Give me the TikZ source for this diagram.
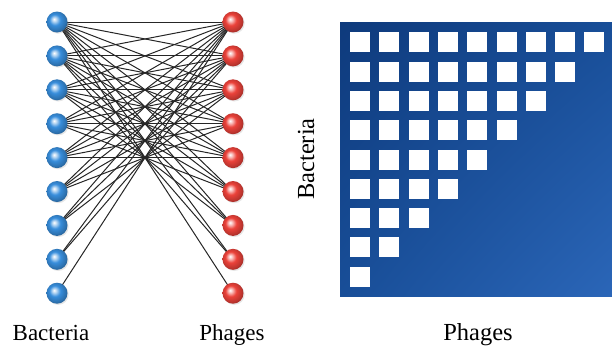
\documentclass[tikz,border=0pt]{standalone}
\usepackage{fontspec}
\setmainfont{Liberation Serif}
\usetikzlibrary{shadows,shadings,backgrounds}

\definecolor{bactblue}{RGB}{56,142,220}
\definecolor{phagred}{RGB}{236,66,58}
\definecolor{matdark}{RGB}{14,58,124}
\definecolor{matmid}{RGB}{24,78,152}
\definecolor{matlight}{RGB}{43,102,184}

% glossy balls, lighter than the stock ball shading
\pgfdeclareradialshading{bactball}{\pgfpoint{-7bp}{7bp}}{%
  color(0bp)=(white); color(5bp)=(bactblue!35!white); color(13bp)=(bactblue);
  color(24bp)=(bactblue!80!black); color(32bp)=(bactblue!60!black); color(50bp)=(bactblue!50!black)}
\pgfdeclareradialshading{phagball}{\pgfpoint{-7bp}{7bp}}{%
  color(0bp)=(white); color(5bp)=(phagred!35!white); color(13bp)=(phagred);
  color(24bp)=(phagred!80!black); color(32bp)=(phagred!60!black); color(50bp)=(phagred!50!black)}

\tikzset{
  bact/.style={circle, minimum size=21pt, inner sep=0pt, shading=bactball,
    drop shadow={opacity=0.2, shadow xshift=1.2pt, shadow yshift=-1.2pt}},
  phag/.style={circle, minimum size=21pt, inner sep=0pt, shading=phagball,
    drop shadow={opacity=0.2, shadow xshift=1.2pt, shadow yshift=-1.2pt}},
  link/.style={draw=black!85, line width=1pt},
  cell/.style={fill=white},
  lab/.style={font=\fontsize{23}{23}\selectfont, anchor=base},
  biglab/.style={font=\fontsize{24.5}{24.5}\selectfont, anchor=base}
}

\begin{document}
\begin{tikzpicture}[x=1pt, y=-1pt]

		\useasboundingbox (0,0) rectangle (612,346);

		% Bacteria and phages, top to bottom
		\foreach \i in {1,...,9} {
			\node[bact] (b\i) at (57, {22+33.9*(\i-1)}) {};
			\node[phag] (p\i) at (233, {22+33.9*(\i-1)}) {};
		}

		% Nested links: bacterium i infected by phages 1..(10-i)
		\begin{scope}[on background layer]
		\foreach \i in {1,...,9} {
			\pgfmathtruncatemacro\last{10-\i}
			\foreach \j in {1,...,\last} {
				\draw[link] (b\i.center) -- (p\j.center);
			}
		}
		\end{scope}

		\node[lab] (bactlab) at (51, 340) {Bacteria};
		\node[lab] (phaglab) at (232, 340) {Phages};

		% Infection matrix
		\shade[upper left=matdark, upper right=matmid, lower left=matmid, lower right=matlight]
			(340,22.7) rectangle (612,296.5);
		\foreach \i in {1,...,9} {
			\pgfmathtruncatemacro\last{10-\i}
			\foreach \j in {1,...,\last} {
				\fill[cell] ({350+29.3*(\j-1)}, {32.3+29.3*(\i-1)}) rectangle ++(20,20);
			}
		}

		\node[biglab, rotate=90] (rowlab) at (314, 159) {Bacteria};
		\node[biglab] (collab) at (478, 340) {Phages};

\end{tikzpicture}
\end{document}
